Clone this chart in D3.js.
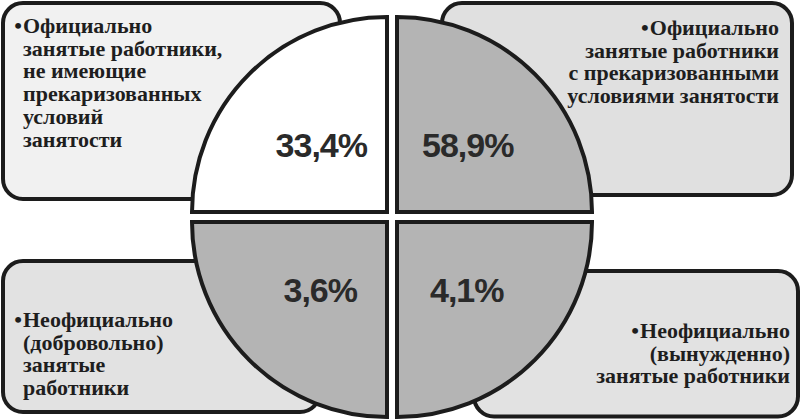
<!DOCTYPE html>
<html><head><meta charset="utf-8">
<script src="https://cdn.jsdelivr.net/npm/d3@7"></script>
<style>
html,body{margin:0;padding:0;background:#fff;}
svg{display:block;}
.lbl{font-family:"Liberation Serif","Times New Roman","DejaVu Serif",serif;font-weight:bold;font-size:22px;}
.val{font-family:"Liberation Sans",Arial,sans-serif;font-weight:bold;font-size:34px;}
</style></head>
<body>
<svg id="chart" width="804" height="420"></svg>
<script>
// Data (order: top-left, top-right, bottom-left, bottom-right)
const categories = [
  "Официально занятые работники, не имеющие прекаризованных условий занятости",
  "Официально занятые работники с прекаризованными условиями занятости",
  "Неофициально (добровольно) занятые работники",
  "Неофициально (вынужденно) занятые работники"
];
const values = [33.4, 58.9, 3.6, 4.1];
const labelLines = [
  ["Официально", "занятые работники,", "не имеющие", "прекаризованных", "условий", "занятости"],
  ["Официально", "занятые работники", "с прекаризованными", "условиями занятости"],
  ["Неофициально", "(добровольно)", "занятые", "работники"],
  ["Неофициально", "(вынужденно)", "занятые работники"]
];

const svg = d3.select("#chart");
const stroke = "#1c1c1c";

// layout
const cx = 392, cy = 217, gap = 5, R = 195;
const quads = [
  {dx: -1, dy: -1, a0: -Math.PI/2, a1: 0, fill: "#ffffff"},
  {dx:  1, dy: -1, a0: 0, a1: Math.PI/2, fill: "#b4b4b4"},
  {dx: -1, dy:  1, a0: Math.PI, a1: 1.5*Math.PI, fill: "#b4b4b4"},
  {dx:  1, dy:  1, a0: Math.PI/2, a1: Math.PI, fill: "#b4b4b4"}
];
const boxes = [
  {x0: 3, y0: 3, x1: 340, y1: 199, fill: "#f1f1f1", anchor: "start", tx: 23, ty: 33},
  {x0: 442, y0: 3, x1: 792, y1: 195, fill: "#e0e0e0", anchor: "end", tx: 779, ty: 35},
  {x0: 3, y0: 261, x1: 320, y1: 412, fill: "#e2e2e2", anchor: "start", tx: 23, ty: 327},
  {x0: 474, y0: 271, x1: 798, y1: 416.5, fill: "#e2e2e2", anchor: "end", tx: 790, ty: 338}
];
const lineH = 22.7;

// boxes
svg.append("g").selectAll("rect").data(boxes).join("rect")
  .attr("x", d => d.x0).attr("y", d => d.y0)
  .attr("width", d => d.x1 - d.x0).attr("height", d => d.y1 - d.y0)
  .attr("rx", 20).attr("ry", 20)
  .attr("fill", d => d.fill).attr("stroke", stroke).attr("stroke-width", 4);

// box texts
boxes.forEach((b, i) => {
  const t = svg.append("text")
    .attr("class", "lbl")
    .attr("text-anchor", b.anchor)
    .attr("fill", "#1e1e1e");
  labelLines[i].forEach((ln, j) => {
    t.append("tspan").attr("x", b.tx).attr("y", b.ty + j*lineH).text(ln);
  });
  // bullet before first line
  const bl = svg.append("text").attr("class", "lbl").attr("fill", "#1e1e1e")
    .attr("text-anchor", "end").text("•");
  let bx = b.tx - 1;
  if (b.anchor === "end") {
    const w = t.select("tspan").node().getComputedTextLength();
    bx = b.tx - w - 1;
  }
  bl.attr("x", bx).attr("y", b.ty);
});

// quadrants
const arc = d3.arc().innerRadius(0).outerRadius(R);
const fmt = v => d3.format(".1f")(v).replace(".", ",") + "%";
const qg = svg.append("g");
quads.forEach((q, i) => {
  const ox = cx + q.dx*gap, oy = cy + q.dy*gap;
  qg.append("path")
    .attr("transform", `translate(${ox},${oy})`)
    .attr("d", arc({startAngle: q.a0, endAngle: q.a1}))
    .attr("fill", q.fill).attr("stroke", stroke).attr("stroke-width", 4)
    .attr("stroke-linejoin", "miter");
});

// value labels
const valPos = [
  {x: cx - gap - 20, y: 157, anchor: "end"},
  {x: cx + gap + 25, y: 157, anchor: "start"},
  {x: cx - gap - 30, y: 302, anchor: "end"},
  {x: cx + gap + 33, y: 302, anchor: "start"}
];
svg.append("g").selectAll("text").data(values).join("text")
  .attr("class", "val")
  .attr("x", (d, i) => valPos[i].x)
  .attr("y", (d, i) => valPos[i].y)
  .attr("text-anchor", (d, i) => valPos[i].anchor)
  .attr("letter-spacing", -1)
  .attr("fill", "#2a2a2a")
  .text(d => fmt(d));
</script>
</body></html>
